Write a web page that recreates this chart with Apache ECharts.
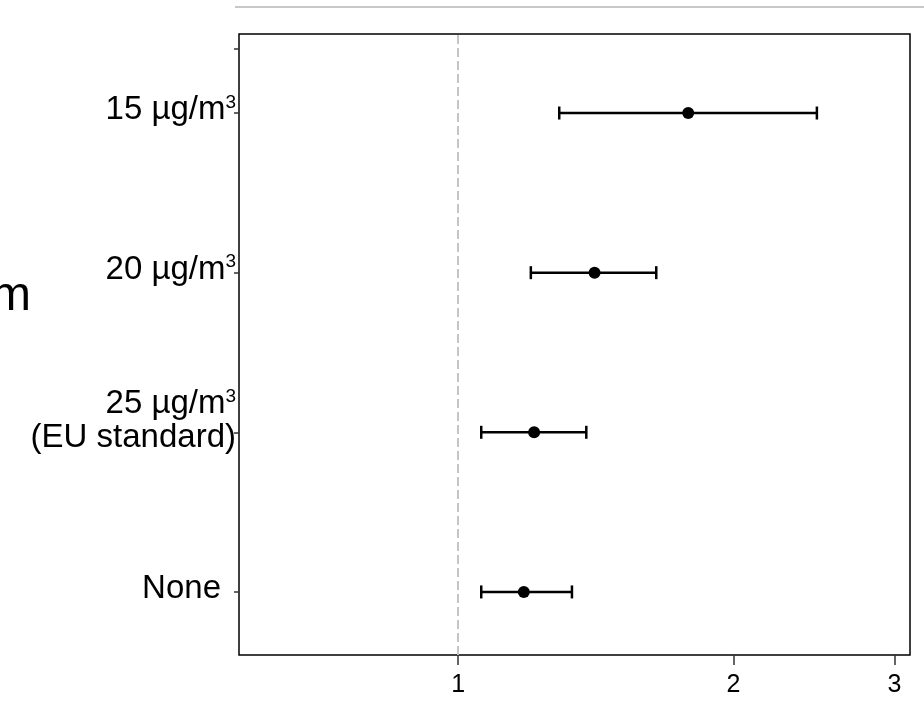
<!DOCTYPE html>
<html><head><meta charset="utf-8">
<script src="https://cdn.jsdelivr.net/npm/echarts@6/dist/echarts.min.js"></script>
<style>html,body{margin:0;padding:0;background:#fff}#c{width:924px;height:728px}</style>
</head><body><div id="c"></div>
<script>
// Categories, bottom to top
const categories = ['None', '25 µg/m³ (EU standard)', '20 µg/m³', '15 µg/m³'];
const labelMain = ['None', '25 µg/m', '20 µg/m', '15 µg/m'];
const labelSup = ['', '3', '3', '3'];
const labelSub = ['', '(EU standard)', '', ''];
// Ratio estimates with 95% CI (log-scaled x axis)
const estimate = [1.18, 1.211, 1.41, 1.785];
const lower = [1.06, 1.06, 1.201, 1.29];
const upper = [1.332, 1.381, 1.647, 2.468];
const xTicks = [1, 2, 3];
const refValue = 1;
const xMin = 0.576, xMax = 3.12;

const ln = Math.log;
const pos = categories.map((c, i) => i + 1);
const pointData = estimate.map((v, i) => [ln(v), pos[i]]);
const barData = lower.map((v, i) => [ln(v), ln(upper[i]), pos[i]]);

const chart = echarts.init(document.getElementById('c'), null, {renderer: 'canvas'});
const FONT = 'Liberation Sans, Arial, sans-serif';
chart.setOption({
  animation: false,
  backgroundColor: '#fff',
  grid: {left: 239, right: 14, top: 34, bottom: 73, show: true, borderColor: '#000', borderWidth: 1.5, backgroundColor: 'transparent'},
  graphic: [
    {type: 'line', shape: {x1: 235, y1: 7, x2: 924, y2: 7}, style: {stroke: '#c8c8c8', lineWidth: 2}},
    {type: 'text', right: 893, top: 273, style: {text: 'm', font: '48px ' + FONT, fill: '#000'}}
  ],
  xAxis: {
    type: 'value', min: ln(xMin), max: ln(xMax),
    splitLine: {show: false},
    axisLine: {show: false, onZero: false},
    axisTick: {show: true, length: 10, customValues: xTicks.map(ln), lineStyle: {color: '#333', width: 1.5}},
    axisLabel: {customValues: xTicks.map(ln), margin: 18, fontSize: 25, fontFamily: FONT, color: '#000',
      formatter: v => String(Math.round(Math.exp(v)))}
  },
  yAxis: {
    type: 'value', min: 0.605, max: 4.495,
    splitLine: {show: false},
    axisLine: {show: false, onZero: false},
    axisTick: {show: true, length: 5, customValues: [1, 2, 3, 4, 4.4], lineStyle: {color: '#333', width: 1.5}},
    axisLabel: {
      customValues: pos, margin: 3, padding: [0, 0, 6, 0],
      formatter: v => {
        const i = Math.round(v) - 1;
        let s = labelSup[i] ? '{m|' + labelMain[i] + '}{s|' + labelSup[i] + '}' : '{n|' + labelMain[i] + '}';
        if (labelSub[i]) s += '\n{m|' + labelSub[i] + '}\n{z| }';
        return s;
      },
      rich: {
        m: {fontSize: 33, fontFamily: FONT, color: '#000', lineHeight: 34},
        n: {fontSize: 33, fontFamily: FONT, color: '#000', lineHeight: 34, padding: [0, 15, 0, 0]},
        s: {fontSize: 19, fontFamily: FONT, color: '#000', lineHeight: 20, verticalAlign: 'top'},
        z: {fontSize: 8, lineHeight: 16}
      }
    }
  },
  series: [
    {
      type: 'custom',
      data: barData,
      encode: {x: [0, 1], y: 2},
      renderItem: (params, api) => {
        const y = api.value(2);
        const a = api.coord([api.value(0), y]);
        const b = api.coord([api.value(1), y]);
        const cap = 6.5;
        const st = {stroke: '#000', lineWidth: 2.5};
        return {type: 'group', children: [
          {type: 'line', shape: {x1: a[0], y1: a[1], x2: b[0], y2: b[1]}, style: st},
          {type: 'line', shape: {x1: a[0], y1: a[1] - cap, x2: a[0], y2: a[1] + cap}, style: st},
          {type: 'line', shape: {x1: b[0], y1: b[1] - cap, x2: b[0], y2: b[1] + cap}, style: st}
        ]};
      },
      z: 3
    },
    {
      type: 'scatter',
      data: pointData,
      symbol: 'circle', symbolSize: 12,
      itemStyle: {color: '#000', opacity: 1},
      z: 4,
      markLine: {
        silent: true, symbol: 'none', label: {show: false},
        lineStyle: {color: '#c4c4c4', type: [9, 4], width: 2, opacity: 1},
        data: [{xAxis: ln(refValue)}],
        z: 1
      }
    }
  ]
});
</script></body></html>
